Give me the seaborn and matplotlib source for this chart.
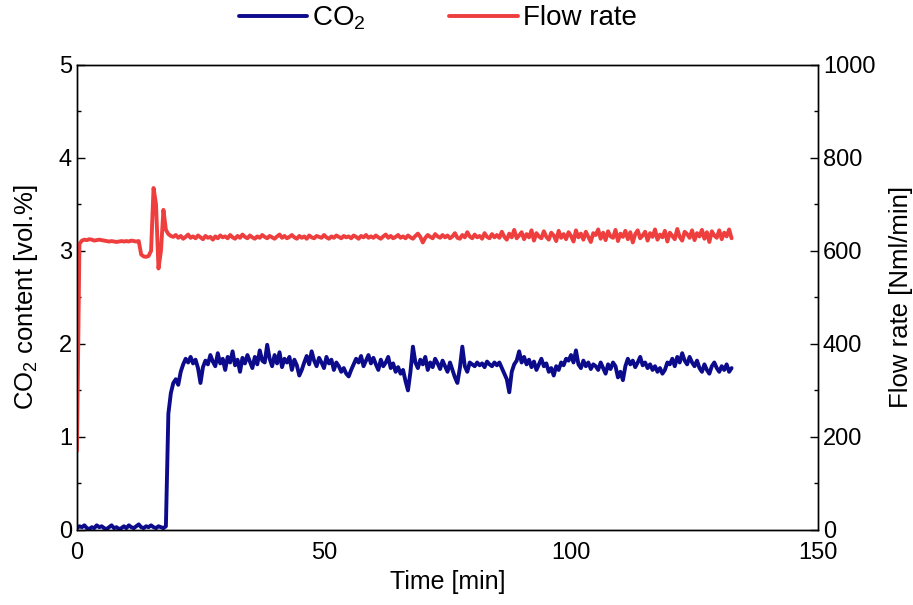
import numpy as np
import pandas as pd
import seaborn as sns
import matplotlib
matplotlib.use("Agg")
from matplotlib import pyplot as plt
from matplotlib.ticker import MultipleLocator

# time grid, 0.5 min steps
time_min = np.arange(0, 133, 0.5)

co2 = [
    0.02, 0.04, 0.03, 0.05, 0.02, 0.01, 0.03, 0.02, 0.05, 0.03,
    0.04, 0.02, 0.01, 0.03, 0.05, 0.02, 0.03, 0.01, 0.02, 0.04,
    0.02, 0.05, 0.03, 0.02, 0.04, 0.06, 0.03, 0.02, 0.04, 0.03,
    0.05, 0.03, 0.02, 0.04, 0.03, 0.02, 0.04, 1.25, 1.47, 1.58,
    1.62, 1.56, 1.70, 1.78, 1.84, 1.80, 1.86, 1.79, 1.83, 1.74,
    1.58, 1.75, 1.82, 1.78, 1.88, 1.81, 1.76, 1.90, 1.79, 1.84,
    1.72, 1.86, 1.80, 1.92, 1.77, 1.83, 1.70, 1.85, 1.79, 1.88,
    1.81, 1.74, 1.86, 1.78, 1.93, 1.82, 1.80, 1.99, 1.84, 1.76,
    1.88, 1.79, 1.91, 1.75, 1.84, 1.80, 1.86, 1.72, 1.83, 1.77,
    1.66, 1.72, 1.80, 1.87, 1.78, 1.92, 1.82, 1.76, 1.85, 1.80,
    1.74, 1.86, 1.79, 1.83, 1.72, 1.80, 1.76, 1.70, 1.74, 1.68,
    1.65, 1.72, 1.78, 1.84, 1.80, 1.87, 1.76, 1.82, 1.88, 1.79,
    1.85, 1.78, 1.72, 1.83, 1.76, 1.80, 1.86, 1.74, 1.79, 1.70,
    1.75, 1.68, 1.72, 1.60, 1.50, 1.70, 1.97, 1.80, 1.74, 1.83,
    1.78, 1.86, 1.72, 1.80, 1.75, 1.84, 1.79, 1.73, 1.82, 1.76,
    1.70, 1.80, 1.72, 1.64, 1.58, 1.74, 1.97, 1.76, 1.70, 1.80,
    1.78, 1.76, 1.80, 1.77, 1.79, 1.75, 1.81, 1.78, 1.76, 1.80,
    1.77, 1.80, 1.74, 1.68, 1.62, 1.48, 1.70, 1.78, 1.82, 1.92,
    1.80, 1.86, 1.78, 1.83, 1.75, 1.81, 1.72, 1.78, 1.84, 1.76,
    1.79, 1.70, 1.74, 1.66, 1.76, 1.72, 1.80, 1.77, 1.84, 1.82,
    1.88, 1.80, 1.93, 1.78, 1.74, 1.82, 1.76, 1.80, 1.73, 1.78,
    1.76, 1.72, 1.80, 1.74, 1.68, 1.78, 1.73, 1.80, 1.76, 1.64,
    1.70, 1.61, 1.76, 1.84, 1.78, 1.82, 1.75, 1.80, 1.86, 1.77,
    1.80, 1.74, 1.78, 1.72, 1.76, 1.70, 1.74, 1.68, 1.72, 1.80,
    1.78, 1.84, 1.76, 1.86, 1.80, 1.90, 1.82, 1.78, 1.86, 1.80,
    1.76, 1.82, 1.74, 1.70, 1.78, 1.72, 1.68, 1.76, 1.80, 1.74,
    1.70, 1.76, 1.72, 1.78, 1.70, 1.74,
]

flow = [
    170, 615, 622, 624, 623, 625, 624, 622, 623, 624,
    623, 622, 621, 620, 621, 620, 619, 620, 621, 620,
    621, 620, 622, 621, 620, 621, 592, 588, 587, 589,
    600, 735, 700, 562, 600, 688, 645, 636, 632, 630,
    634, 628, 632, 626, 630, 635, 628, 631, 627, 633,
    629, 625, 632, 628, 630, 624, 631, 627, 633, 629,
    631, 627, 634, 629, 626, 632, 628, 635, 630, 627,
    633, 629, 626, 631, 628, 634, 630, 627, 632, 629,
    626, 631, 635, 628, 632, 627, 630, 634, 629, 626,
    632, 628, 631, 626, 633, 629, 627, 632, 630, 628,
    634, 629, 626, 631, 628, 633, 630, 627, 632, 629,
    631, 627, 633, 630, 626, 632, 629, 634, 628, 631,
    628, 633, 629, 626, 631, 635, 628, 632, 627, 630,
    634, 628, 631, 627, 633, 629, 626, 632, 637, 630,
    618, 628, 634, 630, 627, 636, 631, 628, 634, 629,
    633, 627, 631, 638, 628, 626, 634, 629, 640, 631,
    627, 635, 629, 632, 626, 638, 630, 627, 636, 629,
    634, 628, 641, 630, 624, 637, 629, 645, 627, 633,
    640, 625, 636, 629, 644, 622, 638, 631, 627, 642,
    630, 624, 639, 633, 621, 643, 628, 636, 625, 640,
    632, 620, 644, 629, 637, 624, 641, 630, 619, 638,
    634, 646, 626, 639, 623, 642, 631, 628, 645, 621,
    637, 630, 643, 625, 640, 618, 636, 644, 627, 633,
    641, 622, 638, 630, 646, 624, 635, 629, 643, 620,
    639, 632, 625, 647, 630, 622, 641, 636, 628, 644,
    623, 638, 631, 645, 626, 640, 619, 642, 633, 628,
    644, 625, 639, 631, 646, 627,
]

df = pd.DataFrame({"time": time_min, "co2": co2, "flow": flow})

sns.set_style("white")
plt.rcParams["font.family"] = ["Liberation Sans", "DejaVu Sans"]
plt.rcParams["mathtext.default"] = "regular"
plt.rcParams["text.color"] = "black"
plt.rcParams["axes.labelcolor"] = "black"
plt.rcParams["xtick.color"] = "black"
plt.rcParams["ytick.color"] = "black"

co2_color = "#0b0b8c"
flow_color = "#ef3e3e"

fig = plt.figure(figsize=(9.13, 6.05), dpi=100)
ax = fig.add_axes([0.0843, 0.124, 0.8117, 0.769])
ax2 = ax.twinx()

sns.lineplot(data=df, x="time", y="co2", ax=ax, color=co2_color, lw=2.8, label="CO$_2$", legend=False)
sns.lineplot(data=df, x="time", y="flow", ax=ax2, color=flow_color, lw=2.8, label="Flow rate", legend=False)

ax.set_xlim(0, 150)
ax.set_ylim(0, 5)
ax2.set_ylim(0, 1000)
ax.xaxis.set_major_locator(MultipleLocator(50))
ax.xaxis.set_minor_locator(MultipleLocator(25))
ax.yaxis.set_major_locator(MultipleLocator(1))
ax.yaxis.set_minor_locator(MultipleLocator(0.5))
ax2.yaxis.set_major_locator(MultipleLocator(200))
ax2.yaxis.set_minor_locator(MultipleLocator(100))

ax.set_xlabel("Time [min]", fontsize=18, labelpad=4)
ax.set_ylabel("CO$_2$ content [vol.%]", fontsize=18.5, labelpad=14)
ax2.set_ylabel("Flow rate [Nml/min]", fontsize=18.5, labelpad=10)

ax.tick_params(axis="both", which="major", direction="in", length=6, width=1, labelsize=17)
ax.tick_params(axis="both", which="minor", direction="in", length=3, width=1)
ax2.tick_params(axis="y", which="major", direction="in", length=6, width=1, labelsize=17)
ax2.tick_params(axis="y", which="minor", direction="in", length=3, width=1)
ax.tick_params(axis="x", which="major", pad=9)

for a in (ax, ax2):
    for sp in a.spines.values():
        sp.set_color("black")
        sp.set_linewidth(1.0)

h1, l1 = ax.get_legend_handles_labels()
h2, l2 = ax2.get_legend_handles_labels()
ax.legend(h1 + h2, l1 + l2, loc="center", bbox_to_anchor=(0.487, 1.1), ncol=2,
          frameon=False, fontsize=20, handlelength=2.45, handletextpad=0.2,
          columnspacing=3.0)

fig.savefig("out.png", dpi=100)
